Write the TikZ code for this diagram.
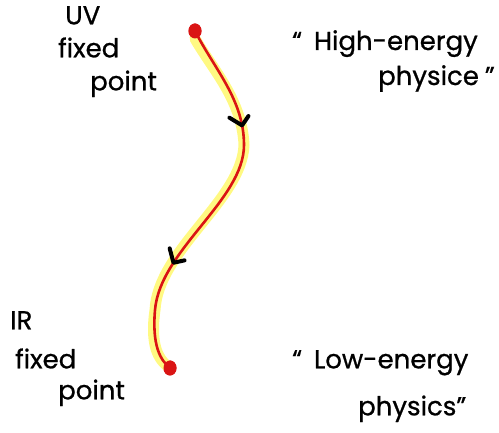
\documentclass[tikz,border=0pt]{standalone}
\usepackage{fontspec}
\setmainfont{Poppins}
\newfontfamily\handfont{Poppins}[FakeBold=0.8]
\usepackage{tikz}
\usetikzlibrary{shapes.geometric,decorations.markings}
\definecolor{flowred}{RGB}{218,20,20}
\definecolor{glow}{RGB}{255,249,130}

\begin{document}
\begin{tikzpicture}[x=1pt,y=-1pt,
    fixedpt/.style={ellipse, fill=flowred, inner sep=0pt, minimum width=13pt, minimum height=15pt},
    hand/.style={font=\handfont\fontsize{26}{35}\selectfont, align=left, inner sep=0pt, anchor=north west},
    flowline/.style={draw=flowred, line width=2.6pt},
    halo/.style={draw=glow, line width=11pt, line cap=round},
    chevron/.style={draw=black, line width=4pt, line cap=round, line join=round},
    flowdir/.style={postaction={decorate}, decoration={markings,
        mark=at position 0.28 with {\draw[chevron] (-10pt,-11pt) -- (0pt,0pt) -- (-8pt,8pt);},
        mark=at position 0.70 with {\draw[chevron] (-10pt,-11pt) -- (0pt,0pt) -- (-8pt,8pt);}}}
  ]
  \useasboundingbox (0,0) rectangle (499,433);

  \node[fixedpt] (uv) at (195,31) {};
  \node[fixedpt] (ir) at (170,368) {};
  \coordinate (bend1) at (244,145);
  \coordinate (bend2) at (155,310);

  \draw[halo, xshift=-2pt] (uv.south) .. controls (215,70) and (244,100) .. (bend1)
    .. controls (244,200) and (160,250) .. (bend2)
    .. controls (152,345) and (160,360) .. (ir.center);
  \draw[flowline, flowdir] (uv.center) .. controls (215,70) and (244,100) .. (bend1)
    .. controls (244,200) and (160,250) .. (bend2)
    .. controls (152,345) and (160,360) .. (ir.center);
  \node[fixedpt] at (uv) {};
  \node[fixedpt] at (ir) {};

  \node[hand] (uvlab) at (58,6) {\hspace*{7pt}UV\\[-2pt]fixed\\[-2pt]\hspace*{32pt}point};
  \node[hand] (irlab) at (10,311) {IR\\[4pt]\hspace*{5pt}fixed\\[-4pt]\hspace*{48pt}point};
  \node[hand] (highlab) at (292,30) {“\hspace{12pt}High-energy\\\hspace*{86pt}physice\hspace{6pt}”};
  \node[hand] (lowlab) at (292,350) {“\hspace{12pt}Low-energy\\[12pt]\hspace*{66pt}physics”};
\end{tikzpicture}
\end{document}
